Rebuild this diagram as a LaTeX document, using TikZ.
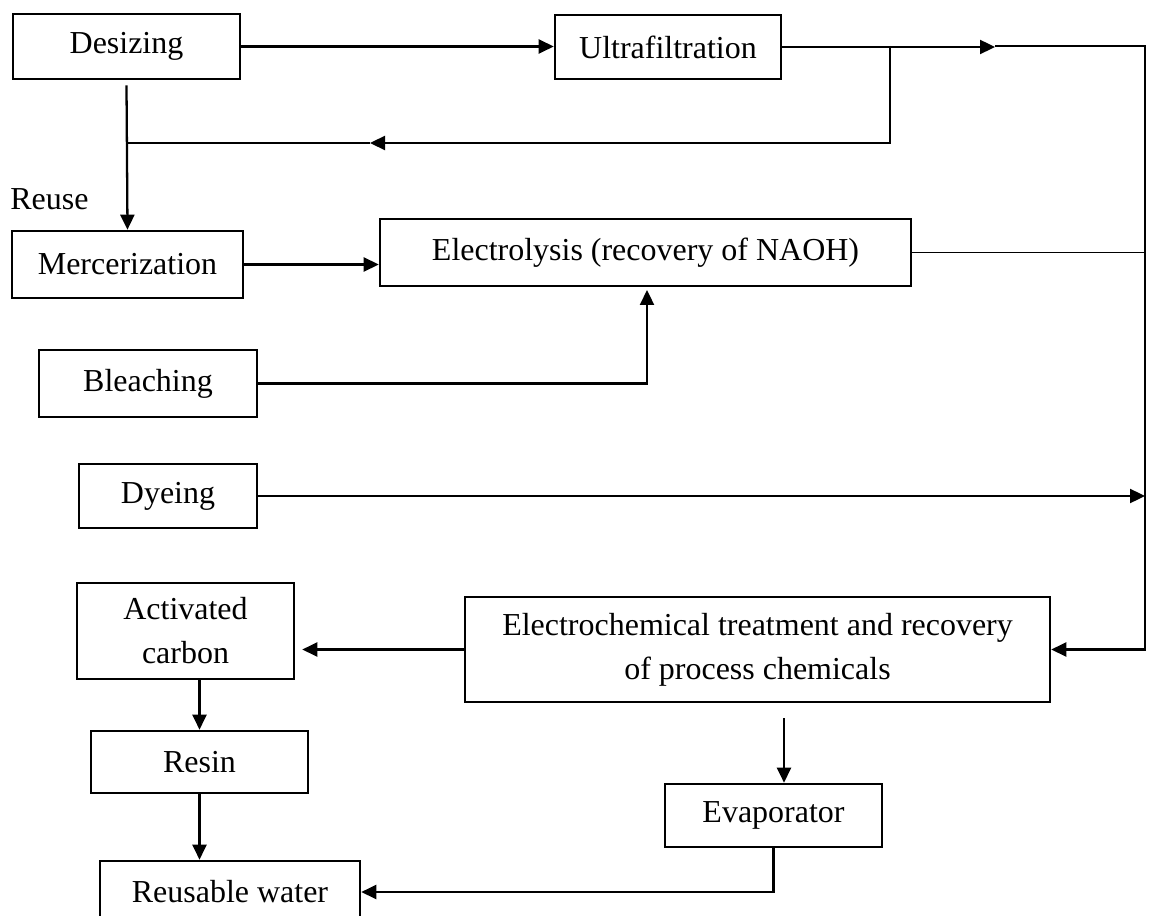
\documentclass[tikz,border=0pt]{standalone}
\usepackage{fontspec}
\setmainfont{Liberation Serif}
\usetikzlibrary{arrows.meta, positioning}

\begin{document}
\begin{tikzpicture}[x=0.02cm, y=-0.02cm,
    box/.style={draw, rectangle, line width=1.5pt, inner sep=0pt, align=center, font=\fontsize{18.2}{25}\selectfont},
    flow/.style={line width=1.3pt, arrows = {-Triangle[length=0.3cm, width=0.28cm]}},
    pipe/.style={line width=1.3pt}]
    \clip (0,0) rectangle (1151,915);

    % Nodes
    \node[box, minimum width=4.54cm, minimum height=1.3cm] (desizing) at (126.5,46.5) {Desizing};
    \node[box, minimum width=4.52cm, minimum height=1.28cm] (ultra) at (668,47) {Ultrafiltration};
    \node[box, minimum width=4.62cm, minimum height=1.34cm] (merc) at (127.5,264.5) {Mercerization};
    \node[box, minimum width=10.62cm, minimum height=1.34cm] (electro) at (645.5,252.5) {Electrolysis (recovery of NAOH)};
    \node[box, minimum width=4.36cm, minimum height=1.34cm] (bleach) at (148,383.5) {Bleaching};
    \node[box, minimum width=3.56cm, minimum height=1.28cm] (dyeing) at (168,496) {Dyeing};
    \node[box, minimum width=4.34cm, minimum height=1.92cm] (carbon) at (185.5,631) {Activated\\carbon};
    \node[box, minimum width=11.7cm, minimum height=2.1cm] (treat) at (757.5,649.5) {Electrochemical treatment and recovery\\of process chemicals};
    \node[box, minimum width=4.34cm, minimum height=1.24cm] (resin) at (199.5,762) {Resin};
    \node[box, minimum width=4.34cm, minimum height=1.26cm] (evap) at (773.5,815.5) {Evaporator};
    \node[box, minimum width=5.2cm, minimum height=1.24cm] (water) at (230,892) {Reusable water};
    \node[anchor=base west, inner sep=0pt, font=\fontsize{18.2}{25}\selectfont] (reuse) at (10,210) {Reuse};

    % Bends and free ends
    \coordinate (uftip) at (995,46);
    \coordinate (ufsplit) at (890,46);
    \coordinate (ufcorner) at (1145,46);
    \coordinate (fbtip) at (370,143);
    \coordinate (fbleft) at (127,143);
    \coordinate (bltip) at (647,290);
    \coordinate (evdrop) at (784,718);

    % Connections
    \draw[flow] (desizing.east) -- (desizing.east -| ultra.west);
    \draw[flow] (ultra.east) -- (ultra.east -| uftip);
    \draw[flow] (uftip) -- (ufcorner) -- (ufcorner |- treat.east) -- (treat.east);
    \draw[flow] (ufsplit) |- (fbtip);
    \draw[pipe] (fbtip) -- (fbleft);
    \draw[flow] ([yshift=-0.1cm]desizing.south) -- (merc.north);
    \draw[flow] (merc.east) -- (merc.east -| electro.west);
    \draw[pipe, line width=0.9pt] (electro.east) -- (electro.east -| ufcorner);
    \draw[flow] (bleach.east) -| (bltip);
    \draw[flow] (dyeing.east) -- (dyeing.east -| ufcorner);
    \draw[flow, shorten >=0.14cm] (treat.west) -- (treat.west -| carbon.east);
    \draw[flow] (resin.north |- carbon.south) -- (resin.north);
    \draw[flow] (resin.south) -- (resin.south |- water.north);
    \draw[flow] (evdrop) -- (evdrop |- evap.north);
    \draw[flow] (evap.south) |- (water.east);
\end{tikzpicture}
\end{document}
